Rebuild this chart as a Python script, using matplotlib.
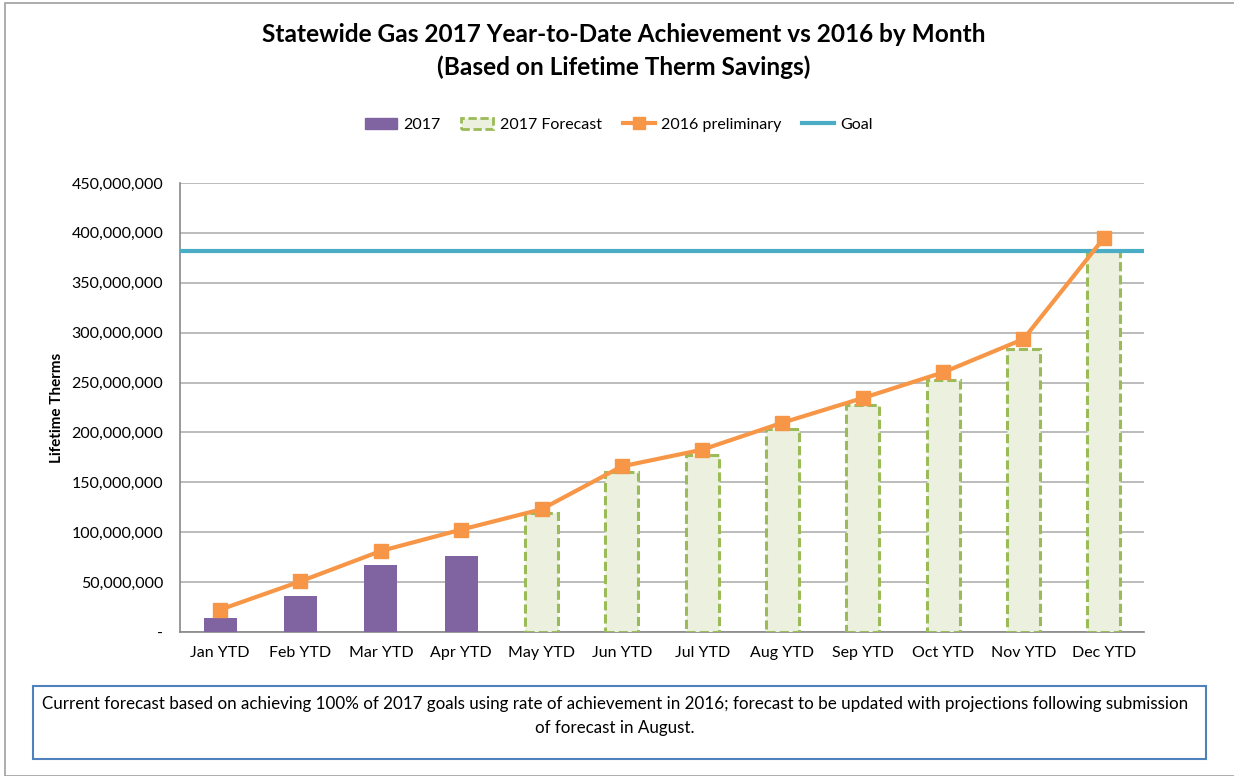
import matplotlib
matplotlib.use("Agg")
import matplotlib.pyplot as plt
from matplotlib.patches import Rectangle, Patch
from matplotlib.lines import Line2D
from matplotlib.ticker import FuncFormatter, MultipleLocator
import numpy as np

plt.rcParams['font.family'] = ['Lato', 'DejaVu Sans']

months = ["Jan YTD", "Feb YTD", "Mar YTD", "Apr YTD", "May YTD", "Jun YTD",
          "Jul YTD", "Aug YTD", "Sep YTD", "Oct YTD", "Nov YTD", "Dec YTD"]
actual_2017 = [14.0e6, 36.1e6, 66.8e6, 76.2e6]
forecast_2017 = [None, None, None, None, 119.3e6, 160.4e6, 177.6e6, 203.8e6,
                 227.2e6, 252.2e6, 283.3e6, 381.5e6]
prelim_2016 = [22.4e6, 50.8e6, 81.2e6, 102.6e6, 123.0e6, 166.0e6, 182.7e6,
               209.8e6, 234.5e6, 260.2e6, 293.6e6, 394.8e6]
goal = 381.5e6

title = "Statewide Gas 2017 Year-to-Date Achievement vs 2016 by Month\n(Based on Lifetime Therm Savings)"
note = ("Current forecast based on achieving 100% of 2017 goals using rate of achievement in 2016; "
        "forecast to be updated with projections following submission\nof forecast in August.")

W, H = 1234, 776
fig = plt.figure(figsize=(W / 100, H / 100), dpi=100)

# outer chart border
fig.patches.append(Rectangle((5 / W, 0), 1.2, (H - 3) / H, transform=fig.transFigure,
                             fill=False, edgecolor="#A0A0A0", linewidth=1.2))

ax = fig.add_axes([180 / W, (H - 632) / H, 964 / W, 449 / H])
x = np.arange(len(months))
bw = 0.41

purple = "#8064A2"
green_edge = "#9BBB59"
green_fill = "#EBF1DE"
orange = "#F79646"
blue = "#4BACC6"

ax.bar(x[:len(actual_2017)], actual_2017, width=bw, color=purple, zorder=3)
fx = [i for i, v in enumerate(forecast_2017) if v is not None]
fv = [v for v in forecast_2017 if v is not None]
ax.bar(fx, fv, width=bw, color=green_fill, edgecolor=green_edge, linewidth=2.2,
       linestyle=(0, (3, 1.3)), zorder=3)
ax.axhline(goal, color=blue, linewidth=3, zorder=4)
ax.plot(x, prelim_2016, color=orange, linewidth=3, marker="s", markersize=10,
        zorder=5)

ax.set_xlim(-0.5, len(months) - 0.5)
ax.set_ylim(0, 450e6)
ax.yaxis.set_major_locator(MultipleLocator(50e6))
ax.yaxis.set_major_formatter(FuncFormatter(lambda v, p: "-" if v == 0 else f"{int(v):,}"))
ax.set_xticks(x)
ax.set_xticklabels(months)
ax.tick_params(axis="both", length=0, labelsize=11.5, colors="#000000")
ax.tick_params(axis="y", pad=12)
ax.tick_params(axis="x", pad=10)
ax.grid(axis="y", color="#B0B0B0", linewidth=1.2, zorder=0)
ax.set_axisbelow(True)
for s in ["top", "right"]:
    ax.spines[s].set_visible(False)
for s in ["left", "bottom"]:
    ax.spines[s].set_color("#888888")
    ax.spines[s].set_linewidth(1.2)

ax.set_ylabel("Lifetime Therms", fontsize=11, fontweight="bold")
ax.yaxis.set_label_coords(-116 / 964, 0.5)

fig.text(624 / W, 1 - 51 / H, title, ha="center", va="center", fontsize=17.6,
         fontweight="bold", linespacing=1.5)

handles = [
    Patch(facecolor=purple, edgecolor=purple),
    Patch(facecolor=green_fill, edgecolor=green_edge, linewidth=2, linestyle=(0, (3, 1.3))),
    Line2D([0], [0], color=orange, linewidth=3, marker="s", markersize=8),
    Line2D([0], [0], color=blue, linewidth=3),
]
fig.legend(handles, ["2017", "2017 Forecast", "2016 preliminary", "Goal"],
           loc="center", bbox_to_anchor=(619 / W, 1 - 125 / H), ncol=4, frameon=False,
           fontsize=11.5, handlelength=2.0, handletextpad=0.4, columnspacing=1.3)

# note box
fig.patches.append(Rectangle((33 / W, (H - 759) / H), (1206 - 33) / W, (759 - 686) / H,
                             transform=fig.transFigure, fill=False, edgecolor="#4F81BD",
                             linewidth=1.5))
fig.text(615 / W, 1 - 716 / H, note, ha="center", va="center", fontsize=12.25,
         linespacing=1.55)

fig.savefig("out.png", dpi=100)
